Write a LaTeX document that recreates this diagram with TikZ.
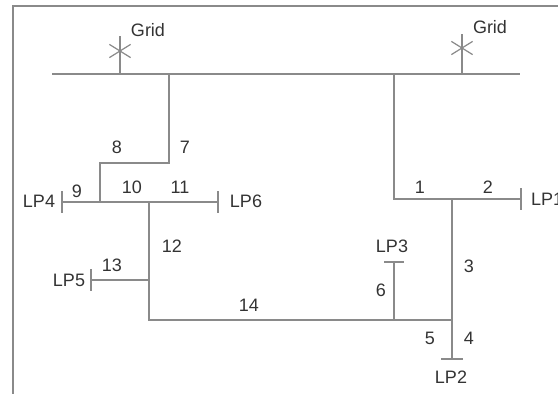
\documentclass[tikz,border=0pt]{standalone}
\usepackage{fontspec}
\setmainfont{Liberation Sans}
\usetikzlibrary{shapes.misc}
\definecolor{wire}{HTML}{8A8A8A}
\definecolor{txt}{HTML}{333333}

\begin{document}
\begin{tikzpicture}[x=1pt,y=-1pt,every node/.style={font=\fontsize{18}{21}\selectfont, text=txt, inner sep=1pt},
  wire/.style={draw=wire, line width=1.5pt},
  gridsym/.style={draw=wire, line width=1.2pt, cross out, minimum width=20pt, minimum height=12pt, inner sep=0pt}]
            \useasboundingbox (0,0) rectangle (558,394);
            \draw[wire, line width=1.8pt] (13,6) rectangle (580,410);
            % bus and grid connections
            \coordinate (busL) at (52,74);
            \coordinate (busR) at (520,74);
            \coordinate (g1) at (120,74);
            \coordinate (g1t) at (120,36);
            \coordinate (g2) at (462,74);
            \coordinate (g2t) at (462,34);
            \draw[wire] (busL) -- (busR);
            \draw[wire] (g1) -- (g1t);
            \draw[wire] (g2) -- (g2t);
            \node[gridsym] (x1) at (120,51) {};
            \node[gridsym] (x2) at (462,48) {};
            \node (grid1) at (148,30) {Grid};
            \node (grid2) at (490,27) {Grid};
            % left feeder
            \coordinate (f7) at (169,74);
            \coordinate (c7) at (169,163);
            \coordinate (c8) at (100,163);
            \coordinate (j9) at (100,202);
            \coordinate (lp4) at (62,202);
            \coordinate (lp6) at (218,202);
            \coordinate (j12) at (149,202);
            \coordinate (j13) at (149,280);
            \coordinate (lp5) at (91,280);
            \coordinate (j14) at (149,320);
            % right feeder
            \coordinate (f1) at (394,74);
            \coordinate (c1) at (394,199);
            \coordinate (j3) at (452,199);
            \coordinate (lp1) at (521,199);
            \coordinate (j5) at (452,320);
            \coordinate (j6) at (394,320);
            \coordinate (lp3) at (394,262);
            \coordinate (lp2) at (452,359);
            \draw[wire] (f7) -- (c7) -- (c8) -- (j9);
            \draw[wire] (lp4) -- (lp6);
            \draw[wire] (j12) -- (j14) -- (j5);
            \draw[wire] (j13) -- (lp5);
            \draw[wire] (f1) -- (c1) -- (lp1);
            \draw[wire] (j3) -- (lp2);
            \draw[wire] (j6) -- (lp3);
            % load point ends
            \draw[wire] (lp4) ++(0,-11) -- ++(0,22);
            \draw[wire] (lp6) ++(0,-11) -- ++(0,22);
            \draw[wire] (lp5) ++(0,-11) -- ++(0,22);
            \draw[wire] (lp1) ++(0,-11) -- ++(0,22);
            \draw[wire] (lp3) ++(-10,0) -- ++(20,0);
            \draw[wire] (lp2) ++(-11,0) -- ++(22,0);
            \node (LP4) at (39,201) {LP4};
            \node (LP6) at (246,201) {LP6};
            \node (LP5) at (69,280) {LP5};
            \node[anchor=west] (LP1) at (530,199) {LP1};
            \node (LP3) at (392,246) {LP3};
            \node (LP2) at (451,377) {LP2};
            % line numbers
            \node (l1) at (420,187) {1};
            \node (l2) at (488,187) {2};
            \node (l3) at (469,266) {3};
            \node (l4) at (469,338) {4};
            \node (l5) at (430,338) {5};
            \node (l6) at (381,290) {6};
            \node (l7) at (185,147) {7};
            \node (l8) at (117,147) {8};
            \node (l9) at (77,191) {9};
            \node (l10) at (132,187) {10};
            \node (l11) at (180,187) {11};
            \node (l12) at (172,246) {12};
            \node (l13) at (112,265) {13};
            \node (l14) at (249,305) {14};
            \end{tikzpicture}
\end{document}
